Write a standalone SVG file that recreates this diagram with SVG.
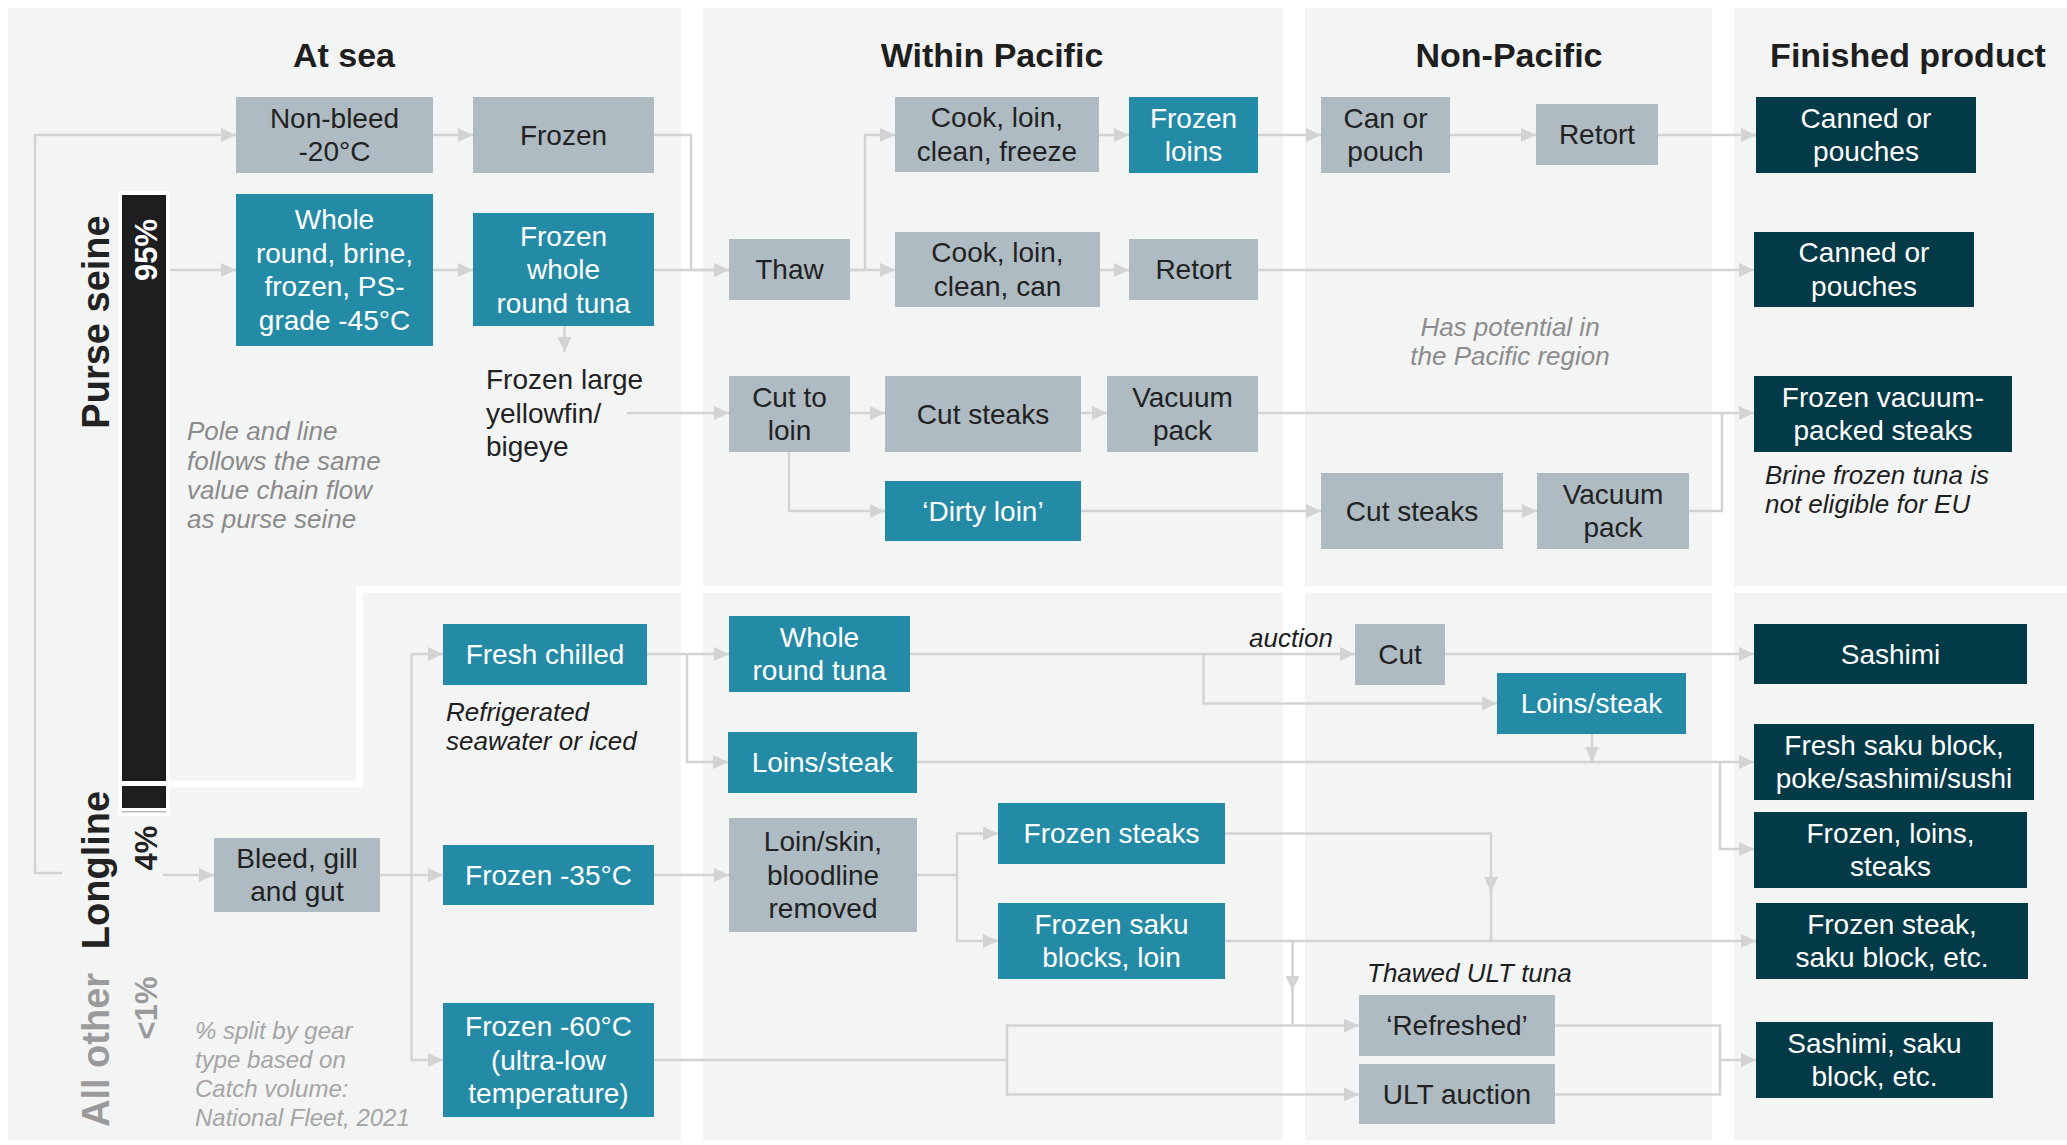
<svg xmlns="http://www.w3.org/2000/svg" width="2067" height="1145" viewBox="0 0 2067 1145">
  <style>
    .panel { fill: #f3f4f4; }
    .g { fill: #aebbc3; }
    .t { fill: #238ba6; }
    .d { fill: #023a47; }
    text { font-family: "Liberation Sans", Arial, sans-serif; }
    .lbl { font-size: 28px; text-anchor: middle; }
    .dk { fill: #222222; }
    .wt { fill: #ffffff; }
    .hd { font-size: 34px; font-weight: bold; fill: #1e1e1e; text-anchor: middle; }
    .note { font-size: 26px; font-style: italic; }
    .gear { font-size: 38px; font-weight: bold; text-anchor: middle; }
    .pct { font-size: 31px; font-weight: bold; text-anchor: middle; }
    .con { fill: none; stroke: #d3d3d3; stroke-width: 2.5; }
    .arr { marker-end: url(#ah); }
  </style>
  <defs>
    <marker id="ah" markerUnits="userSpaceOnUse" markerWidth="16" markerHeight="14" refX="15" refY="7" orient="auto">
      <path d="M0,0 L15,7 L0,14 z" fill="#d3d3d3"/>
    </marker>
  </defs>

  <!-- column panels -->
  <g id="panels">
    <rect class="panel" x="8" y="8" width="673" height="1132"/>
    <rect class="panel" x="703" y="8" width="580" height="1132"/>
    <rect class="panel" x="1305" y="8" width="407" height="1132"/>
    <rect class="panel" x="1734" y="8" width="333" height="1132"/>
    <!-- divider between upper and lower flows -->
    <polyline points="169,784 359.5,784 359.5,589.5 2067,589.5" fill="none" stroke="#ffffff" stroke-width="6.5"/>
  </g>

  <!-- column headings -->
  <g id="headings">
    <text class="hd" x="344" y="67">At sea</text>
    <text class="hd" x="992" y="67">Within Pacific</text>
    <text class="hd" x="1509" y="67">Non-Pacific</text>
    <text class="hd" x="1908" y="67">Finished product</text>
  </g>

  <!-- gear share bar and labels -->
  <g id="gear-bar">
    <rect x="118" y="191" width="52" height="625" rx="3" fill="#ffffff"/>
    <rect x="122" y="195" width="44" height="586" fill="#1e1e20"/>
    <rect x="122" y="786" width="44" height="22" fill="#1e1e20"/>
    <rect x="122" y="811" width="44" height="1.5" fill="#bdbdbd"/>
    <text class="gear dk" transform="translate(109,322) rotate(-90)">Purse seine</text>
    <text class="pct wt" transform="translate(157,250) rotate(-90)">95%</text>
    <text class="gear dk" transform="translate(109,870) rotate(-90)">Longline</text>
    <text class="pct dk" transform="translate(157,848) rotate(-90)">4%</text>
    <text class="gear" fill="#9a9a9a" transform="translate(109,1050) rotate(-90)">All other</text>
    <text class="pct" fill="#9a9a9a" transform="translate(157,1008) rotate(-90)">&lt;1%</text>
  </g>

  <!-- connectors -->
  <g id="connectors">
    <path class="con arr" d="M62,873 H35 V135 H236"/>
    <path class="con arr" d="M433,135 H473"/>
    <path class="con arr" d="M654,135 H691 V270 H729"/>
    <path class="con arr" d="M170,270 H236"/>
    <path class="con arr" d="M433,270 H473"/>
    <path class="con arr" d="M654,270 H729"/>
    <path class="con arr" d="M564.5,326 V352"/>
    <path class="con arr" d="M627,413 H729"/>
    <path class="con arr" d="M850,270 H865 V135 H895"/>
    <path class="con arr" d="M850,270 H895"/>
    <path class="con arr" d="M1099,135 H1129"/>
    <path class="con arr" d="M1100,270 H1129"/>
    <path class="con arr" d="M1258,135 H1321"/>
    <path class="con arr" d="M1450,135 H1536"/>
    <path class="con arr" d="M1658,135 H1756"/>
    <path class="con arr" d="M1258,270 H1754"/>
    <path class="con arr" d="M850,413 H885"/>
    <path class="con arr" d="M1081,413 H1107"/>
    <path class="con arr" d="M1258,413 H1754"/>
    <path class="con arr" d="M789,452 V511 H885"/>
    <path class="con arr" d="M1081,511 H1321"/>
    <path class="con arr" d="M1503,511 H1537"/>
    <path class="con" d="M1689,511 H1722 V413"/>

    <path class="con arr" d="M163,875 H214"/>
    <path class="con arr" d="M380,875 H443"/>
    <path class="con arr" d="M411.5,654 H443"/>
    <path class="con arr" d="M411.5,654 V1060 H443"/>
    <path class="con arr" d="M647,654 H729"/>
    <path class="con arr" d="M687,654 V762 H728"/>
    <path class="con arr" d="M654,875 H729"/>
    <path class="con arr" d="M910,654 H1355"/>
    <path class="con arr" d="M1203.5,654 V703.5 H1497"/>
    <path class="con arr" d="M1445,654 H1754"/>
    <path class="con arr" d="M917,762 H1754"/>
    <path class="con arr" d="M1592,734 V762"/>
    <path class="con arr" d="M1720,762 V849 H1754"/>
    <path class="con arr" d="M917,875 H957 V833.5 H998"/>
    <path class="con arr" d="M957,875 V941 H998"/>
    <path class="con arr" d="M1225,833.5 H1491 V892"/>
    <path class="con" d="M1491,890 V941"/>
    <path class="con arr" d="M1225,941 H1756"/>
    <path class="con arr" d="M1292.5,941 V991"/>
    <path class="con" d="M1292.5,989 V1025.5"/>
    <path class="con arr" d="M654,1060 H1007 V1025.5 H1359"/>
    <path class="con arr" d="M1007,1060 V1094.5 H1359"/>
    <path class="con" d="M1555,1025.5 H1720 V1094.5 H1555"/>
    <path class="con arr" d="M1720,1060 H1756"/>
  </g>

  <!-- at sea -->
  <g id="n-nonbleed"><rect class="g" x="236" y="97" width="197" height="76"/>
    <text class="lbl dk"><tspan x="334.5" y="127.5">Non-bleed</tspan><tspan x="334.5" y="161">-20°C</tspan></text></g>
  <g id="n-frozen"><rect class="g" x="473" y="97" width="181" height="76"/>
    <text class="lbl dk" x="563.5" y="144.5">Frozen</text></g>
  <g id="n-whole-round-brine"><rect class="t" x="236" y="194" width="197" height="152"/>
    <text class="lbl wt"><tspan x="334.5" y="229">Whole</tspan><tspan x="334.5" y="262.5">round, brine,</tspan><tspan x="334.5" y="296">frozen, PS-</tspan><tspan x="334.5" y="329.5">grade -45°C</tspan></text></g>
  <g id="n-frozen-whole"><rect class="t" x="473" y="213" width="181" height="113"/>
    <text class="lbl wt"><tspan x="563.5" y="245.5">Frozen</tspan><tspan x="563.5" y="279">whole</tspan><tspan x="563.5" y="312.5">round tuna</tspan></text></g>
  <g id="n-frozen-large"><text class="dk" font-size="28"><tspan x="486" y="389">Frozen large</tspan><tspan x="486" y="422.5">yellowfin/</tspan><tspan x="486" y="456">bigeye</tspan></text></g>
  <g id="note-pole"><text class="note" fill="#8a8a8a"><tspan x="187" y="440">Pole and line</tspan><tspan x="187" y="469.5">follows the same</tspan><tspan x="187" y="499">value chain flow</tspan><tspan x="187" y="528">as purse seine</tspan></text></g>
  <g id="n-fresh-chilled"><rect class="t" x="443" y="624" width="204" height="61"/>
    <text class="lbl wt" x="545" y="664">Fresh chilled</text></g>
  <g id="note-refrigerated"><text class="note" fill="#1e1e1e"><tspan x="446" y="720.5">Refrigerated</tspan><tspan x="446" y="749.5">seawater or iced</tspan></text></g>
  <g id="n-bleed"><rect class="g" x="214" y="838" width="166" height="74"/>
    <text class="lbl dk"><tspan x="297" y="867.5">Bleed, gill</tspan><tspan x="297" y="901">and gut</tspan></text></g>
  <g id="n-frozen-35"><rect class="t" x="443" y="845" width="211" height="60"/>
    <text class="lbl wt" x="548.5" y="884.5">Frozen -35°C</text></g>
  <g id="n-frozen-60"><rect class="t" x="443" y="1003" width="211" height="114"/>
    <text class="lbl wt"><tspan x="548.5" y="1036">Frozen -60°C</tspan><tspan x="548.5" y="1069.5">(ultra-low</tspan><tspan x="548.5" y="1103">temperature)</tspan></text></g>
  <g id="note-split"><text class="note" font-size="24" fill="#a5a5a5" style="font-size:24px"><tspan x="195" y="1039">% split by gear</tspan><tspan x="195" y="1068">type based on</tspan><tspan x="195" y="1097">Catch volume:</tspan><tspan x="195" y="1126">National Fleet, 2021</tspan></text></g>

  <!-- within Pacific -->
  <g id="n-thaw"><rect class="g" x="729" y="239" width="121" height="61"/>
    <text class="lbl dk" x="789.5" y="279">Thaw</text></g>
  <g id="n-cook-freeze"><rect class="g" x="895" y="97" width="204" height="75"/>
    <text class="lbl dk"><tspan x="997" y="127">Cook, loin,</tspan><tspan x="997" y="160.5">clean, freeze</tspan></text></g>
  <g id="n-frozen-loins"><rect class="t" x="1129" y="97" width="129" height="76"/>
    <text class="lbl wt"><tspan x="1193.5" y="127.5">Frozen</tspan><tspan x="1193.5" y="161">loins</tspan></text></g>
  <g id="n-cook-can"><rect class="g" x="895" y="232" width="205" height="75"/>
    <text class="lbl dk"><tspan x="997.5" y="262">Cook, loin,</tspan><tspan x="997.5" y="295.5">clean, can</tspan></text></g>
  <g id="n-retort-wp"><rect class="g" x="1129" y="239" width="129" height="61"/>
    <text class="lbl dk" x="1193.5" y="279">Retort</text></g>
  <g id="n-cut-loin"><rect class="g" x="729" y="376" width="121" height="76"/>
    <text class="lbl dk"><tspan x="789.5" y="406.5">Cut to</tspan><tspan x="789.5" y="440">loin</tspan></text></g>
  <g id="n-cut-steaks-wp"><rect class="g" x="885" y="376" width="196" height="76"/>
    <text class="lbl dk" x="983" y="423.5">Cut steaks</text></g>
  <g id="n-vacuum-wp"><rect class="g" x="1107" y="376" width="151" height="76"/>
    <text class="lbl dk"><tspan x="1182.5" y="406.5">Vacuum</tspan><tspan x="1182.5" y="440">pack</tspan></text></g>
  <g id="n-dirty-loin"><rect class="t" x="885" y="481" width="196" height="60"/>
    <text class="lbl wt" x="983" y="520.5">‘Dirty loin’</text></g>
  <g id="n-whole-round-ll"><rect class="t" x="729" y="616" width="181" height="76"/>
    <text class="lbl wt"><tspan x="819.5" y="646.5">Whole</tspan><tspan x="819.5" y="680">round tuna</tspan></text></g>
  <g id="n-loins-steak-wp"><rect class="t" x="728" y="732" width="189" height="61"/>
    <text class="lbl wt" x="822.5" y="772">Loins/steak</text></g>
  <g id="n-loin-skin"><rect class="g" x="729" y="818" width="188" height="114"/>
    <text class="lbl dk"><tspan x="823" y="851">Loin/skin,</tspan><tspan x="823" y="884.5">bloodline</tspan><tspan x="823" y="918">removed</tspan></text></g>
  <g id="n-frozen-steaks"><rect class="t" x="998" y="803" width="227" height="61"/>
    <text class="lbl wt" x="1111.5" y="843">Frozen steaks</text></g>
  <g id="n-frozen-saku"><rect class="t" x="998" y="903" width="227" height="76"/>
    <text class="lbl wt"><tspan x="1111.5" y="933.5">Frozen saku</tspan><tspan x="1111.5" y="967">blocks, loin</tspan></text></g>

  <!-- non-Pacific -->
  <g id="n-can-pouch"><rect class="g" x="1321" y="97" width="129" height="76"/>
    <text class="lbl dk"><tspan x="1385.5" y="127.5">Can or</tspan><tspan x="1385.5" y="161">pouch</tspan></text></g>
  <g id="n-retort-np"><rect class="g" x="1536" y="104" width="122" height="61"/>
    <text class="lbl dk" x="1597" y="144">Retort</text></g>
  <g id="note-potential"><text class="note" fill="#8c8c8c" text-anchor="middle"><tspan x="1510" y="335.5">Has potential in</tspan><tspan x="1510" y="364.5">the Pacific region</tspan></text></g>
  <g id="n-cut-steaks-np"><rect class="g" x="1321" y="473" width="182" height="76"/>
    <text class="lbl dk" x="1412" y="520.5">Cut steaks</text></g>
  <g id="n-vacuum-np"><rect class="g" x="1537" y="473" width="152" height="76"/>
    <text class="lbl dk"><tspan x="1613" y="503.5">Vacuum</tspan><tspan x="1613" y="537">pack</tspan></text></g>
  <g id="note-auction"><text class="note" fill="#1e1e1e" x="1249" y="647">auction</text></g>
  <g id="n-cut"><rect class="g" x="1355" y="624" width="90" height="61"/>
    <text class="lbl dk" x="1400" y="664">Cut</text></g>
  <g id="n-loins-steak-np"><rect class="t" x="1497" y="673" width="189" height="61"/>
    <text class="lbl wt" x="1591.5" y="713">Loins/steak</text></g>
  <g id="note-thawed"><text class="note" fill="#1e1e1e" x="1367" y="982">Thawed ULT tuna</text></g>
  <g id="n-refreshed"><rect class="g" x="1359" y="995" width="196" height="61"/>
    <text class="lbl dk" x="1457" y="1035">‘Refreshed’</text></g>
  <g id="n-ult-auction"><rect class="g" x="1359" y="1064" width="196" height="60"/>
    <text class="lbl dk" x="1457" y="1103.5">ULT auction</text></g>

  <!-- finished products -->
  <g id="f-canned-1"><rect class="d" x="1756" y="97" width="220" height="76"/>
    <text class="lbl wt"><tspan x="1866" y="127.5">Canned or</tspan><tspan x="1866" y="161">pouches</tspan></text></g>
  <g id="f-canned-2"><rect class="d" x="1754" y="232" width="220" height="75"/>
    <text class="lbl wt"><tspan x="1864" y="262">Canned or</tspan><tspan x="1864" y="295.5">pouches</tspan></text></g>
  <g id="f-vacuum-steaks"><rect class="d" x="1754" y="376" width="258" height="76"/>
    <text class="lbl wt"><tspan x="1883" y="406.5">Frozen vacuum-</tspan><tspan x="1883" y="440">packed steaks</tspan></text></g>
  <g id="note-brine"><text class="note" fill="#1e1e1e"><tspan x="1765" y="483.5">Brine frozen tuna is</tspan><tspan x="1765" y="512.5">not eligible for EU</tspan></text></g>
  <g id="f-sashimi"><rect class="d" x="1754" y="624" width="273" height="60"/>
    <text class="lbl wt" x="1890.5" y="663.5">Sashimi</text></g>
  <g id="f-fresh-saku"><rect class="d" x="1754" y="724" width="280" height="76"/>
    <text class="lbl wt"><tspan x="1894" y="754.5">Fresh saku block,</tspan><tspan x="1894" y="788">poke/sashimi/sushi</tspan></text></g>
  <g id="f-frozen-loins-steaks"><rect class="d" x="1754" y="812" width="273" height="76"/>
    <text class="lbl wt"><tspan x="1890.5" y="842.5">Frozen, loins,</tspan><tspan x="1890.5" y="876">steaks</tspan></text></g>
  <g id="f-frozen-steak-saku"><rect class="d" x="1756" y="903" width="272" height="76"/>
    <text class="lbl wt"><tspan x="1892" y="933.5">Frozen steak,</tspan><tspan x="1892" y="967">saku block, etc.</tspan></text></g>
  <g id="f-sashimi-saku"><rect class="d" x="1756" y="1022" width="237" height="76"/>
    <text class="lbl wt"><tspan x="1874.5" y="1052.5">Sashimi, saku</tspan><tspan x="1874.5" y="1086">block, etc.</tspan></text></g>
</svg>
